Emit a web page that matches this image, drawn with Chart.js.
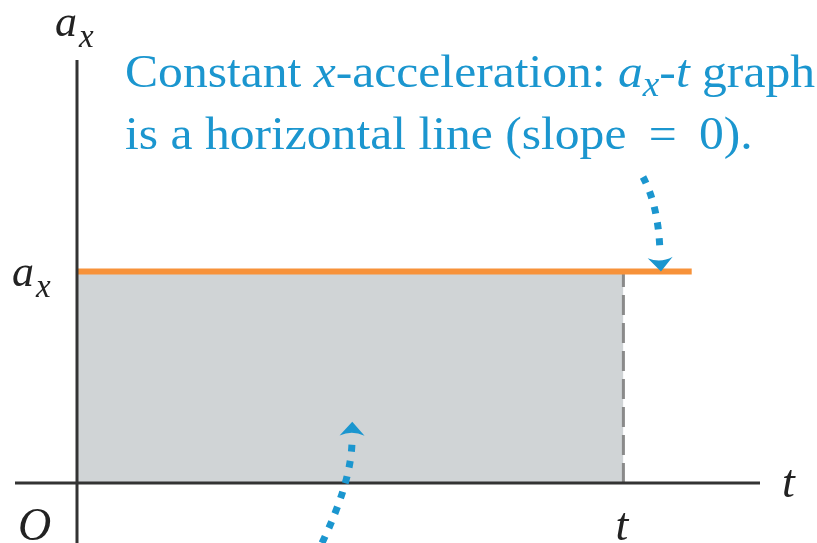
<!DOCTYPE html>
<html>
<head>
<meta charset="utf-8">
<script src="https://cdn.jsdelivr.net/npm/chart.js@4.4.1/dist/chart.umd.min.js"></script>
<style>
  html, body { margin: 0; padding: 0; background: #fff; }
  canvas { display: block; }
</style>
</head>
<body>
<canvas id="axChart" width="817" height="543"></canvas>
<script>
// values (t in arbitrary units, a_x = 1 means "constant a_x")
const lineTimes = [0, 9];        // orange a_x-t line
const lineValues = [1, 1];
const areaTimes = [0, 8];        // shaded area up to time t
const areaValues = [1, 1];
const markTime = 8;              // the "t" tick
const tMax = 10;
const aMax = 2;

const BLUE = "#1b96cf";
const SERIF = '"Liberation Serif", "DejaVu Serif", serif';

const toPoints = (xs, ys) => xs.map((x, i) => ({ x: x, y: ys[i] }));

// draw a line of mixed roman / italic / subscript runs
function drawRich(ctx, runs, x, y, size, sx) {
    ctx.save();
    ctx.translate(x, y);
    ctx.scale(sx, 1);
    let cx = 0;
    runs.forEach(r => {
        const fs = r.sub ? size * 0.75 : size;
        ctx.font = (r.i ? "italic " : "") + fs + "px " + SERIF;
        ctx.fillText(r.t, cx, r.sub ? size * 0.2 : 0);
        cx += ctx.measureText(r.t).width;
    });
    ctx.restore();
}

function richWidth(ctx, runs, size) {
    let w = 0;
    runs.forEach(r => {
        const fs = r.sub ? size * 0.75 : size;
        ctx.font = (r.i ? "italic " : "") + fs + "px " + SERIF;
        w += ctx.measureText(r.t).width;
    });
    return w;
}

function dottedArrow(ctx, p0, c, p1, tip) {
    ctx.save();
    ctx.strokeStyle = BLUE;
    ctx.fillStyle = BLUE;
    ctx.lineWidth = 7;
    ctx.setLineDash([7, 9]);
    ctx.beginPath();
    ctx.moveTo(p0.x, p0.y);
    ctx.quadraticCurveTo(c.x, c.y, p1.x, p1.y);
    ctx.stroke();
    // arrow head, direction from p1 to tip
    const ang = Math.atan2(tip.y - p1.y, tip.x - p1.x);
    ctx.translate(tip.x, tip.y);
    ctx.rotate(ang);
    ctx.setLineDash([]);
    ctx.beginPath();
    ctx.moveTo(0, 0);
    ctx.lineTo(-14, -12.5);
    ctx.quadraticCurveTo(-8, 0, -14, 12.5);
    ctx.closePath();
    ctx.fill();
    ctx.restore();
}

const decorations = {
    id: "decorations",
    afterDatasetsDraw(chart) {
        const ctx = chart.ctx;
        const xs = chart.scales.x, ys = chart.scales.y;
        const x0 = xs.getPixelForValue(0), y0 = ys.getPixelForValue(0);
        const px = (t, a) => ({ x: xs.getPixelForValue(t), y: ys.getPixelForValue(a) });

        // axes
        ctx.save();
        ctx.strokeStyle = "#333";
        ctx.lineWidth = 3;
        ctx.beginPath();
        ctx.moveTo(15, y0);
        ctx.lineTo(chart.chartArea.right, y0);
        ctx.moveTo(x0, chart.chartArea.top);
        ctx.lineTo(x0, chart.height);
        ctx.stroke();
        ctx.restore();

        // axis labels
        ctx.save();
        ctx.fillStyle = "#222";
        ctx.textBaseline = "alphabetic";
        ctx.font = "italic 44px " + SERIF;
        ctx.fillText("a", 55, 36);
        ctx.fillText("a", 12, 286);
        ctx.font = "italic 33px " + SERIF;
        ctx.fillText("x", 79, 47);
        ctx.fillText("x", 36, 297);
        ctx.font = "italic 46px " + SERIF;
        ctx.fillText("O", 18, 540);
        ctx.fillText("t", xs.getPixelForValue(markTime) - 8, 540);
        ctx.fillText("t", 782, 497);
        ctx.restore();

        // annotation text
        ctx.save();
        ctx.fillStyle = BLUE;
        const size = 47;
        const line1 = [
            { t: "Constant " }, { t: "x", i: true }, { t: "-acceleration: " },
            { t: "a", i: true }, { t: "x", i: true, sub: true }, { t: "-" },
            { t: "t", i: true }, { t: " graph" }
        ];
        const line2 = [{ t: "is a horizontal line (slope \u2009=\u2009 0)." }];
        const sx = 690 / richWidth(ctx, line1, size);
        drawRich(ctx, line1, 125, 87, size, sx);
        drawRich(ctx, line2, 125, 149, size, sx);
        ctx.restore();

        // dotted arrows
        dottedArrow(ctx, { x: 643, y: 177 }, { x: 659, y: 207 }, { x: 660, y: 254 }, px(8.55, 1.0));
        dottedArrow(ctx, { x: 322, y: 543 }, { x: 352, y: 480 }, { x: 352, y: 440 }, px(4.03, 0.29));
    }
};

new Chart(document.getElementById("axChart"), {
    type: "scatter",
    data: {
        datasets: [
            {
                data: toPoints(lineTimes, lineValues),
                showLine: true,
                borderColor: "#f7923a",
                borderWidth: 6,
                pointRadius: 0,
                order: 1
            },
            {
                data: toPoints([markTime, markTime], [0, areaValues[1]]),
                showLine: true,
                borderColor: "#8a8a8a",
                borderWidth: 3,
                borderDash: [20, 8],
                pointRadius: 0,
                order: 2
            },
            {
                data: toPoints(areaTimes, areaValues),
                showLine: true,
                borderWidth: 0,
                borderColor: "rgba(0,0,0,0)",
                backgroundColor: "#d0d4d6",
                fill: "origin",
                pointRadius: 0,
                order: 3
            }
        ]
    },
    options: {
        responsive: false,
        animation: false,
        devicePixelRatio: 1,
        layout: { padding: { left: 77, right: 57, top: 60, bottom: 60 } },
        plugins: { legend: { display: false }, tooltip: { enabled: false } },
        scales: {
            x: { type: "linear", min: 0, max: tMax, display: false },
            y: { type: "linear", min: 0, max: aMax, display: false }
        }
    },
    plugins: [decorations]
});
</script>
</body>
</html>
